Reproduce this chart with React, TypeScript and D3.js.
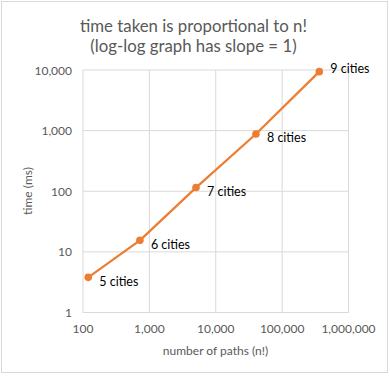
import React from "react";
import * as d3 from "d3";

const cities = ["5 cities", "6 cities", "7 cities", "8 cities", "9 cities"];
const paths = [120, 720, 5040, 40320, 362880];
const timeMs = [3.8, 15.5, 115, 880, 9400];
const xTicks = [100, 1000, 10000, 100000, 1000000];
const yTicks = [1, 10, 100, 1000, 10000];
const titleLines = ["time taken is proportional to n!", "(log-log graph has slope = 1)"];
const xTitle = "number of paths (n!)";
const yTitle = "time (ms)";

const W = 390, H = 376;
const FONT = "Lato, 'Open Sans', sans-serif";
const GRAY = "#595959";
const ORANGE = "#ED7D31";

export default function App() {
  const x = d3.scaleLog().domain([100, 1000000]).range([83, 348.5]);
  const y = d3.scaleLog().domain([1, 10000]).range([312.5, 70]);
  const fmt = d3.format(",");
  const line = d3.line<number>().x((_, i) => x(paths[i])).y((d) => y(d));
  const pts = timeMs.map((t, i) => ({ t, p: paths[i], label: cities[i] }));

  return (
    <svg width={W} height={H} style={{ position: "absolute", left: 0, top: 0, background: "#fff" }}>
      <rect x={1.5} y={1.5} width={386} height={371} fill="#fff" stroke="#d9d9d9" strokeWidth={1} />
      {titleLines.map((t, i) => (
        <text key={i} x={193.5} y={25 + i * 20} textAnchor="middle" dominantBaseline="central"
          fontFamily={FONT} fontSize={16.8} fill={GRAY}>{t}</text>
      ))}
      {xTicks.map((v) => (
        <line key={"gx" + v} x1={x(v)} x2={x(v)} y1={y(10000)} y2={y(1)} stroke="#d9d9d9" strokeWidth={1} />
      ))}
      {yTicks.map((v) => (
        <line key={"gy" + v} x1={x(100)} x2={x(1000000)} y1={y(v)} y2={y(v)} stroke="#d9d9d9" strokeWidth={1} />
      ))}
      {xTicks.map((v) => (
        <text key={"tx" + v} x={x(v)} y={328} textAnchor="middle" dominantBaseline="central"
          fontFamily={FONT} fontSize={12} fill={GRAY}>{fmt(v)}</text>
      ))}
      {yTicks.map((v) => (
        <text key={"ty" + v} x={72} y={y(v)} textAnchor="end" dominantBaseline="central"
          fontFamily={FONT} fontSize={12} fill={GRAY}>{fmt(v)}</text>
      ))}
      <text x={215.5} y={350} textAnchor="middle" dominantBaseline="central"
        fontFamily={FONT} fontSize={12} fill={GRAY}>{xTitle}</text>
      <text transform={`translate(27,191) rotate(-90)`} textAnchor="middle" dominantBaseline="central"
        fontFamily={FONT} fontSize={12} fill={GRAY}>{yTitle}</text>
      <path d={line(timeMs) || ""} fill="none" stroke={ORANGE} strokeWidth={2.25} strokeLinejoin="round" />
      {pts.map((d, i) => (
        <circle key={"c" + i} cx={x(d.p)} cy={y(d.t)} r={3.8} fill={ORANGE} />
      ))}
      {pts.map((d, i) => (
        <text key={"l" + i} x={x(d.p) + 11} y={y(d.t) + (i === pts.length - 1 ? -3 : 4)}
          dominantBaseline="central" fontFamily={FONT} fontSize={12.5} fill="#000">{d.label}</text>
      ))}
    </svg>
  );
}
